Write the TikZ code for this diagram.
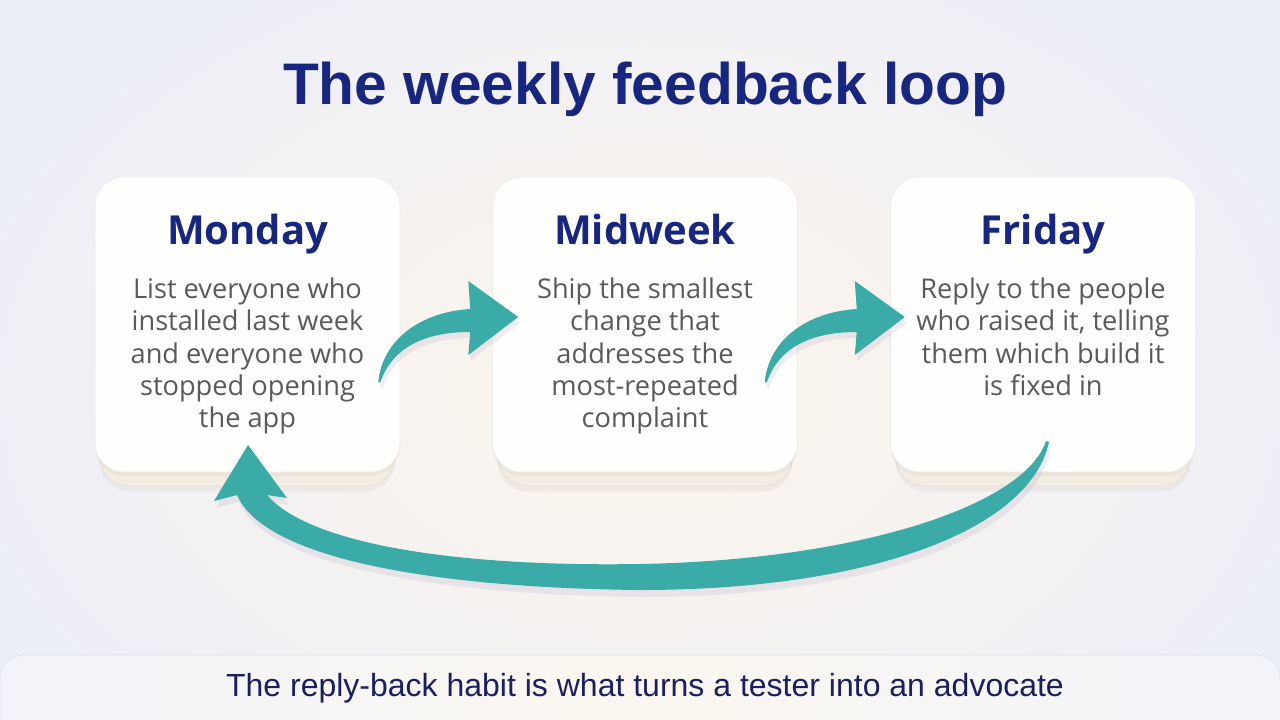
\documentclass[tikz,border=0pt]{standalone}
\usepackage{fontspec}
\setmainfont{Open Sans}
\newfontfamily\arialfont{Liberation Sans}
\usetikzlibrary{calc,positioning,shadows}
\definecolor{navy}{HTML}{17277F}
\definecolor{ink}{HTML}{1B1F5E}
\definecolor{bodygray}{HTML}{5A5A5A}
\definecolor{loopteal}{HTML}{3AABA6}
\definecolor{bgcol}{HTML}{EDEFF7}
\definecolor{glow}{HTML}{FDF5EA}
\definecolor{cardfill}{HTML}{FEFEFD}
\definecolor{cardline}{HTML}{EFEBE6}
\definecolor{backfill}{HTML}{F3ECE3}
\definecolor{backline}{HTML}{E6DCD0}
\definecolor{haze}{HTML}{6A5C9A}
\definecolor{bandside}{HTML}{F2F4FA}
\definecolor{bandmid}{HTML}{FBF7F0}
\definecolor{bandline}{HTML}{DCDFE8}

\tikzset{
  hop/.pic={
    \fill[arrowshade] (-20,63.5) .. controls (-16,21.5) and (22,-6.5) .. (72,-9.5) -- (70,-37.5) -- (120,-1.5) -- (70,36.5) -- (72,13.5) .. controls (27,13.5) and (-6,28.5) .. (-18,64) -- cycle;
    \fill[loopteal] (-22,57.5) .. controls (-18,15.5) and (20,-12.5) .. (70,-15.5) -- (68,-43.5) -- (118,-7.5) -- (68,30.5) -- (70,7.5) .. controls (25,7.5) and (-8,22.5) .. (-20,58) -- cycle;
  }
}

\begin{document}
\begin{tikzpicture}[x=0.75pt,y=-0.75pt,
card/.style={draw=cardline,fill=cardfill,rounded corners=22pt,minimum width=228.75pt,minimum height=221.25pt,inner sep=0pt,
  drop shadow={opacity=0.07,shadow xshift=0pt,shadow yshift=-3pt}},
cardback/.style={draw=backline,fill=backfill,rounded corners=22pt,minimum width=221pt,minimum height=222pt,inner sep=0pt,
  drop shadow={opacity=0.08,shadow xshift=0pt,shadow yshift=-4pt}},
daytitle/.style={font=\fontsize{30}{36}\selectfont\bfseries,text=navy,anchor=base,inner sep=0pt},
daytext/.style={font=\fontsize{20.4}{24.2}\selectfont,text=bodygray,align=center,anchor=north,inner sep=0pt},
arrowshade/.style={fill=haze,opacity=0.10}]
\useasboundingbox (0,0) rectangle (1280,720);
\clip (0,0) rectangle (1280,720);
% background
\fill[bgcol] (0,0) rectangle (1280,720);
\shade[inner color=glow,outer color=bgcol] (640,390) ellipse (700 and 480);

\node[font=\arialfont\fontsize{44}{50}\selectfont\bfseries,text=navy,anchor=base,inner sep=0pt] (title) at (645,105) {The weekly feedback loop};

% cards
\node[cardback] (monb) at (247.5,338) {};
\node[cardback] (midb) at (645,338) {};
\node[cardback] (frib) at (1043,338) {};
\node[card] (mon) at (247.5,324.5) {};
\node[card] (mid) at (645,324.5) {};
\node[card] (fri) at (1043,324.5) {};

\node[daytitle] (monh) at ($(mon.north)+(0,68)$) {Monday};
\node[daytitle] (midh) at ($(mid.north)+(0,68)$) {Midweek};
\node[daytitle] (frih) at ($(fri.north)+(0,68)$) {Friday};
\node[daytext] (mont) at ($(mon.north)+(0,101)$) {List everyone who\\installed last week\\and everyone who\\stopped opening\\the app};
\node[daytext] (midt) at ($(mid.north)+(0,101)$) {Ship the smallest\\change that\\addresses the\\most-repeated\\complaint};
\node[daytext] (frit) at ($(fri.north)+(0,101)$) {Reply to the people\\who raised it, telling\\them which build it\\is fixed in};

% arrows
\pic (hop1) at (mon.east) {hop};
\pic (hop2) at ($(mid.east)+(-11,0)$) {hop};

\fill[arrowshade] (1048,448) .. controls (1027,512) and (862,567) .. (642,571) .. controls (462,574) and (312,552) .. (269,502) -- (289,505) -- (250,452) -- (216,508) -- (239,502) .. controls (267,567) and (442,595) .. (642,597) .. controls (872,597) and (1032,537) .. (1051,449) -- cycle;
\fill[loopteal] (1046,441) .. controls (1025,505) and (860,560) .. (640,564) .. controls (460,567) and (310,545) .. (267,495) -- (287,498) -- (248,445) -- (214,501) -- (237,495) .. controls (265,560) and (440,588) .. (640,590) .. controls (870,590) and (1030,530) .. (1049,442) -- cycle;

% footer band
\shade[left color=bandside,right color=bandside,middle color=bandmid,rounded corners=18pt] (0,655) rectangle (1280,760);
\draw[bandline,rounded corners=18pt] (0,760) -- (0,655) -- (1280,655) -- (1280,760);
\node[font=\arialfont\fontsize{24}{28}\selectfont,text=ink,inner sep=0pt] (note) at (645,688) {The reply-back habit is what turns a tester into an advocate};
\end{tikzpicture}
\end{document}
